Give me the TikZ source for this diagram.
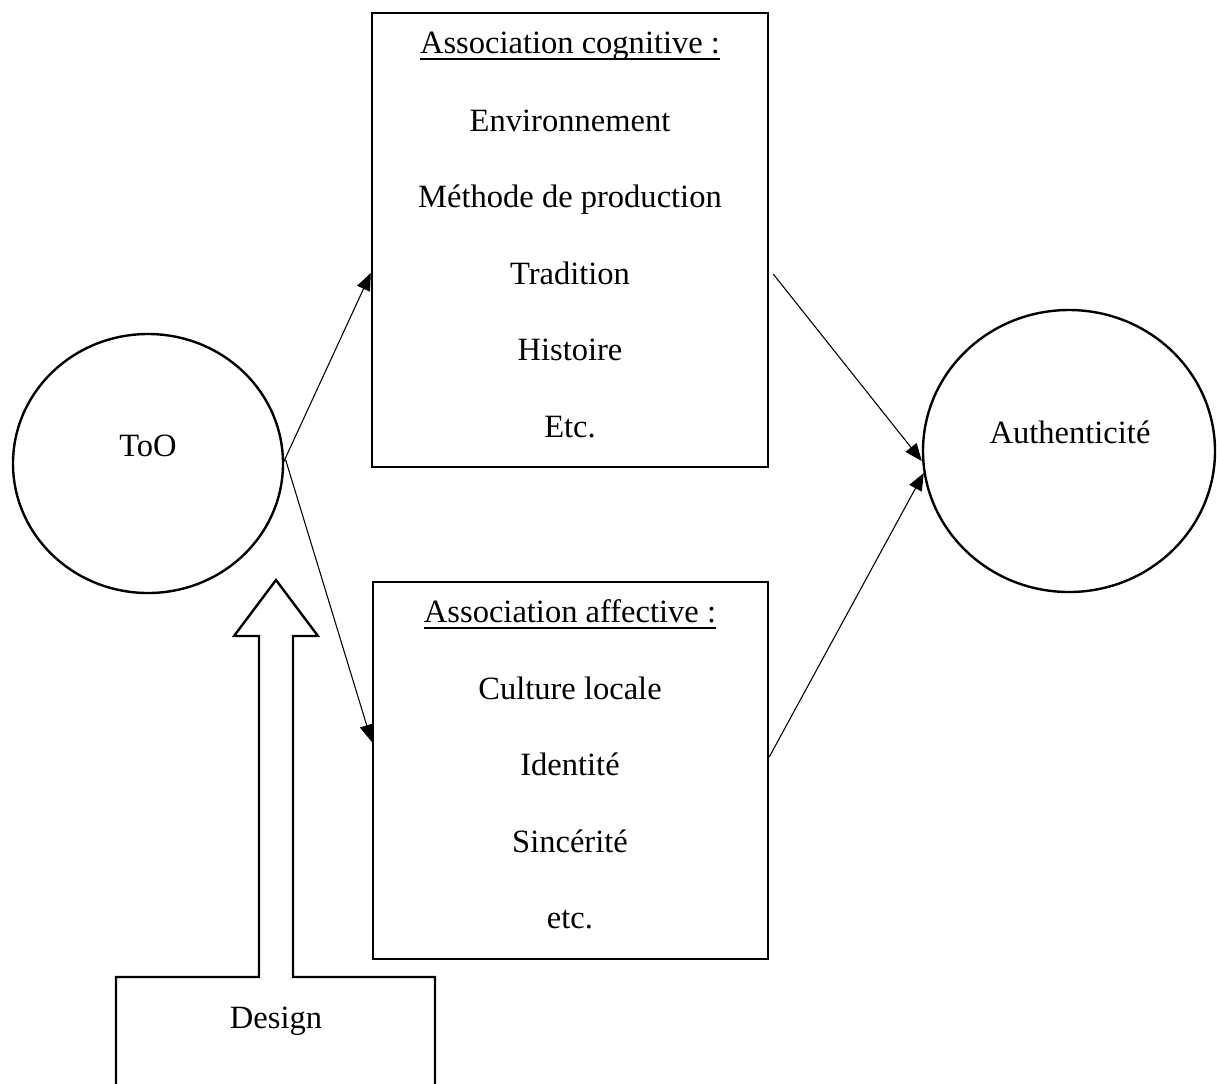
\documentclass[tikz,border=0pt]{standalone}
\usepackage{fontspec}
\setmainfont{Liberation Serif}
\usetikzlibrary{arrows.meta,shapes.geometric}
\tikzset{
  shapeline/.style={draw=black, line width=1.8pt},
  boxnode/.style={shapeline, rectangle, inner sep=0pt},
  ovalnode/.style={shapeline, ellipse, inner sep=0pt},
  txt/.style={anchor=base, inner sep=0pt, font=\fontsize{24.4}{29}\selectfont},
  conn/.style={draw=black, line width=0.8pt, -{Triangle[length=13pt,width=10.5pt]}},
  uline/.style={draw=black, line width=1.2pt}
}
\begin{document}
\begin{tikzpicture}[x=0.75pt,y=-0.75pt]
\useasboundingbox (0,0) rectangle (1217,1083);
\clip (0,0) rectangle (1217,1083);

% shapes
\node[ovalnode, minimum width=202.5pt, minimum height=194.25pt] (too) at (148,463.5) {};
\node[ovalnode, minimum width=219pt, minimum height=211.5pt] (auth) at (1069,451) {};
\node[boxnode, minimum width=297pt, minimum height=340.5pt] (cog) at (570,240) {};
\node[boxnode, minimum width=296.25pt, minimum height=282.75pt] (aff) at (570.5,770.5) {};

% texts
\node[txt] (tooT) at (148,456) {ToO};
\node[txt] (authT) at (1070,443) {Authenticité};

\node[txt] (cogH) at (570,53) {Association cognitive :};
\draw[uline] ([yshift=-4.5pt]cogH.base west) -- ([yshift=-4.5pt]cogH.base east);
\node[txt] (c1) at (570,131) {Environnement};
\node[txt] (c2) at (570,207) {Méthode de production};
\node[txt] (c3) at (570,284) {Tradition};
\node[txt] (c4) at (570,360) {Histoire};
\node[txt] (c5) at (570,437) {Etc.};

\node[txt] (affH) at (570,622) {Association affective :};
\draw[uline] ([yshift=-4.5pt]affH.base west) -- ([yshift=-4.5pt]affH.base east);
\node[txt] (a1) at (570,699) {Culture locale};
\node[txt] (a2) at (570,775) {Identité};
\node[txt] (a3) at (570,852) {Sincérité};
\node[txt] (a4) at (570,928) {etc.};

% design box with hollow block arrow
\draw[shapeline, line join=miter]
  (116,1100) -- (116,977) -- (259,977) -- (259,636) -- (234,636) -- (276,580)
  -- (318,636) -- (293,636) -- (293,977) -- (435,977) -- (435,1100);
\node[txt] (design) at (276,1028) {Design};

% connectors
\draw[conn] ([xshift=-0.5pt,yshift=1pt]too.east) -- ([yshift=-24.75pt]cog.west);
\draw[conn] ([xshift=1pt,yshift=3pt]too.east) -- ([yshift=21.4pt]aff.west);
\draw[conn] ([xshift=3pt,yshift=-25.5pt]cog.east) -- ([yshift=-7.5pt]auth.west);
\draw[conn] ([yshift=10.1pt]aff.east) -- ([xshift=1.5pt,yshift=-16.5pt]auth.west);
\end{tikzpicture}
\end{document}
